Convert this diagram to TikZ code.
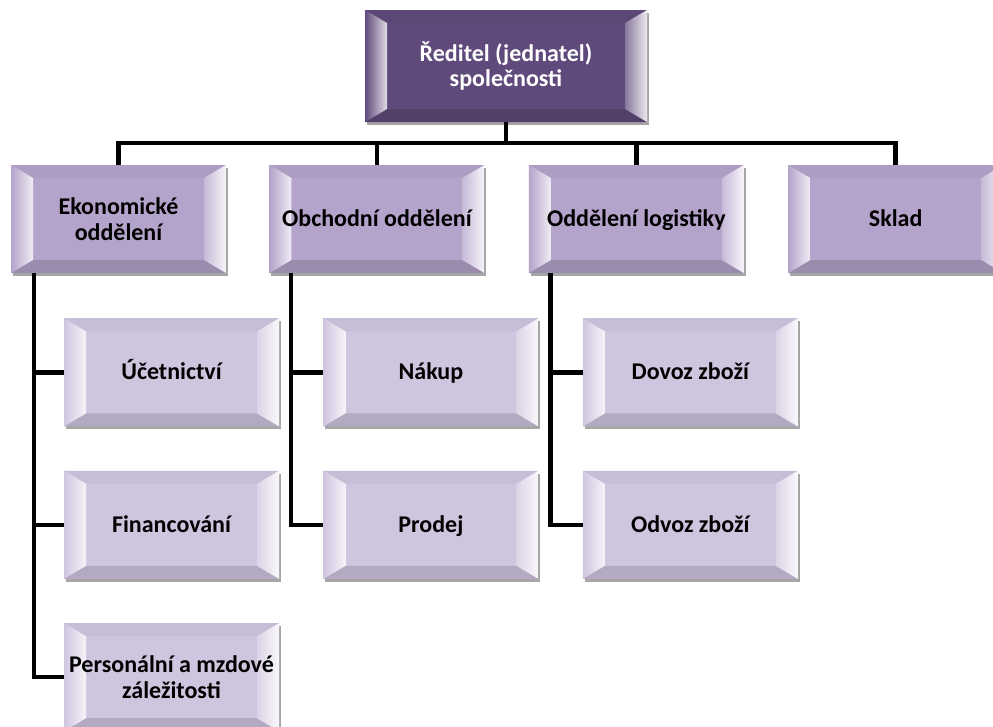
\documentclass[tikz,border=0pt]{standalone}
\usepackage{fontspec}
\setmainfont{Carlito}
\usetikzlibrary{positioning, shadows}

\definecolor{ceofill}{HTML}{604A7B}
\definecolor{deptfill}{HTML}{B4A3CA}
\definecolor{unitfill}{HTML}{D0C5DF}

\begin{document}
\begin{tikzpicture}[
    x=1pt, y=-1pt,
    conn/.style={line width=4.5pt, black},
    orgbox/.style={rectangle, fill=#1, inner sep=0pt, align=center,
        minimum width=215pt, minimum height=108pt,
        font=\bfseries\fontsize{24}{25.5}\selectfont,
        drop shadow={shadow xshift=2pt, shadow yshift=-3pt, fill=black, opacity=.35},
        path picture={
            % top and bottom facets
            \fill[#1!96!black] (path picture bounding box.north west) -- (path picture bounding box.north east)
                -- ([shift={(-22pt,-13pt)}]path picture bounding box.north east)
                -- ([shift={(22pt,-13pt)}]path picture bounding box.north west) -- cycle;
            \fill[#1!86!black] (path picture bounding box.south west) -- (path picture bounding box.south east)
                -- ([shift={(-22pt,13pt)}]path picture bounding box.south east)
                -- ([shift={(22pt,13pt)}]path picture bounding box.south west) -- cycle;
            % left and right facets
            \shade[left color=#1, right color=#1!20!white] (path picture bounding box.north west)
                -- ([shift={(22pt,-13pt)}]path picture bounding box.north west)
                -- ([shift={(22pt,13pt)}]path picture bounding box.south west)
                -- (path picture bounding box.south west) -- cycle;
            \shade[left color=#1!75!white, right color=#1!12!white] (path picture bounding box.north east)
                -- ([shift={(-22pt,-13pt)}]path picture bounding box.north east)
                -- ([shift={(-22pt,13pt)}]path picture bounding box.south east)
                -- (path picture bounding box.south east) -- cycle;
        }},
    deptbox/.style={orgbox=deptfill},
    unitbox/.style={orgbox=unitfill},
    oneline/.style={text height=17pt, text depth=2pt}
]
    \useasboundingbox (0,0) rectangle (993,726);
    \clip (0,0) rectangle (993,726);

    % Director
    \node[orgbox=ceofill, minimum width=282pt, minimum height=112pt, text=white] (ceo) at (506,66)
        {Ředitel (jednatel)\\společnosti};

    % Departments
    \node[deptbox] (econ)  at (118.5,219) {Ekonomické\\oddělení};
    \node[deptbox, oneline] (sales) [right=43pt of econ]  {Obchodní oddělení};
    \node[deptbox, oneline] (logi)  [right=44pt of sales] {Oddělení logistiky};
    \node[deptbox, oneline] (store) [right=44pt of logi]  {Sklad};

    % Units
    \node[unitbox, oneline] (acct) [below=45pt of econ, xshift=53pt] {Účetnictví};
    \node[unitbox, oneline] (fin)  [below=44pt of acct] {Financování};
    \node[unitbox] (pers) [below=44pt of fin]  {Personální a mzdové\\záležitosti};

    \node[unitbox, oneline] (buy)  [below=45pt of sales, xshift=54pt] {Nákup};
    \node[unitbox, oneline] (sell) [below=44pt of buy]  {Prodej};

    \node[unitbox, oneline] (imp)  [below=45pt of logi, xshift=54pt] {Dovoz zboží};
    \node[unitbox, oneline] (exp)  [below=44pt of imp]  {Odvoz zboží};

    % Connectors
    \foreach \dept in {econ, sales, logi, store}
        \draw[conn] (ceo.south) -- ++(0,21) -| (\dept.north);

    \foreach \unit in {acct, fin, pers}
        \draw[conn] ([xshift=23pt]econ.south west) |- (\unit.west);
    \foreach \unit in {buy, sell}
        \draw[conn] ([xshift=22pt]sales.south west) |- (\unit.west);
    \foreach \unit in {imp, exp}
        \draw[conn] ([xshift=22pt]logi.south west) |- (\unit.west);

\end{tikzpicture}
\end{document}
